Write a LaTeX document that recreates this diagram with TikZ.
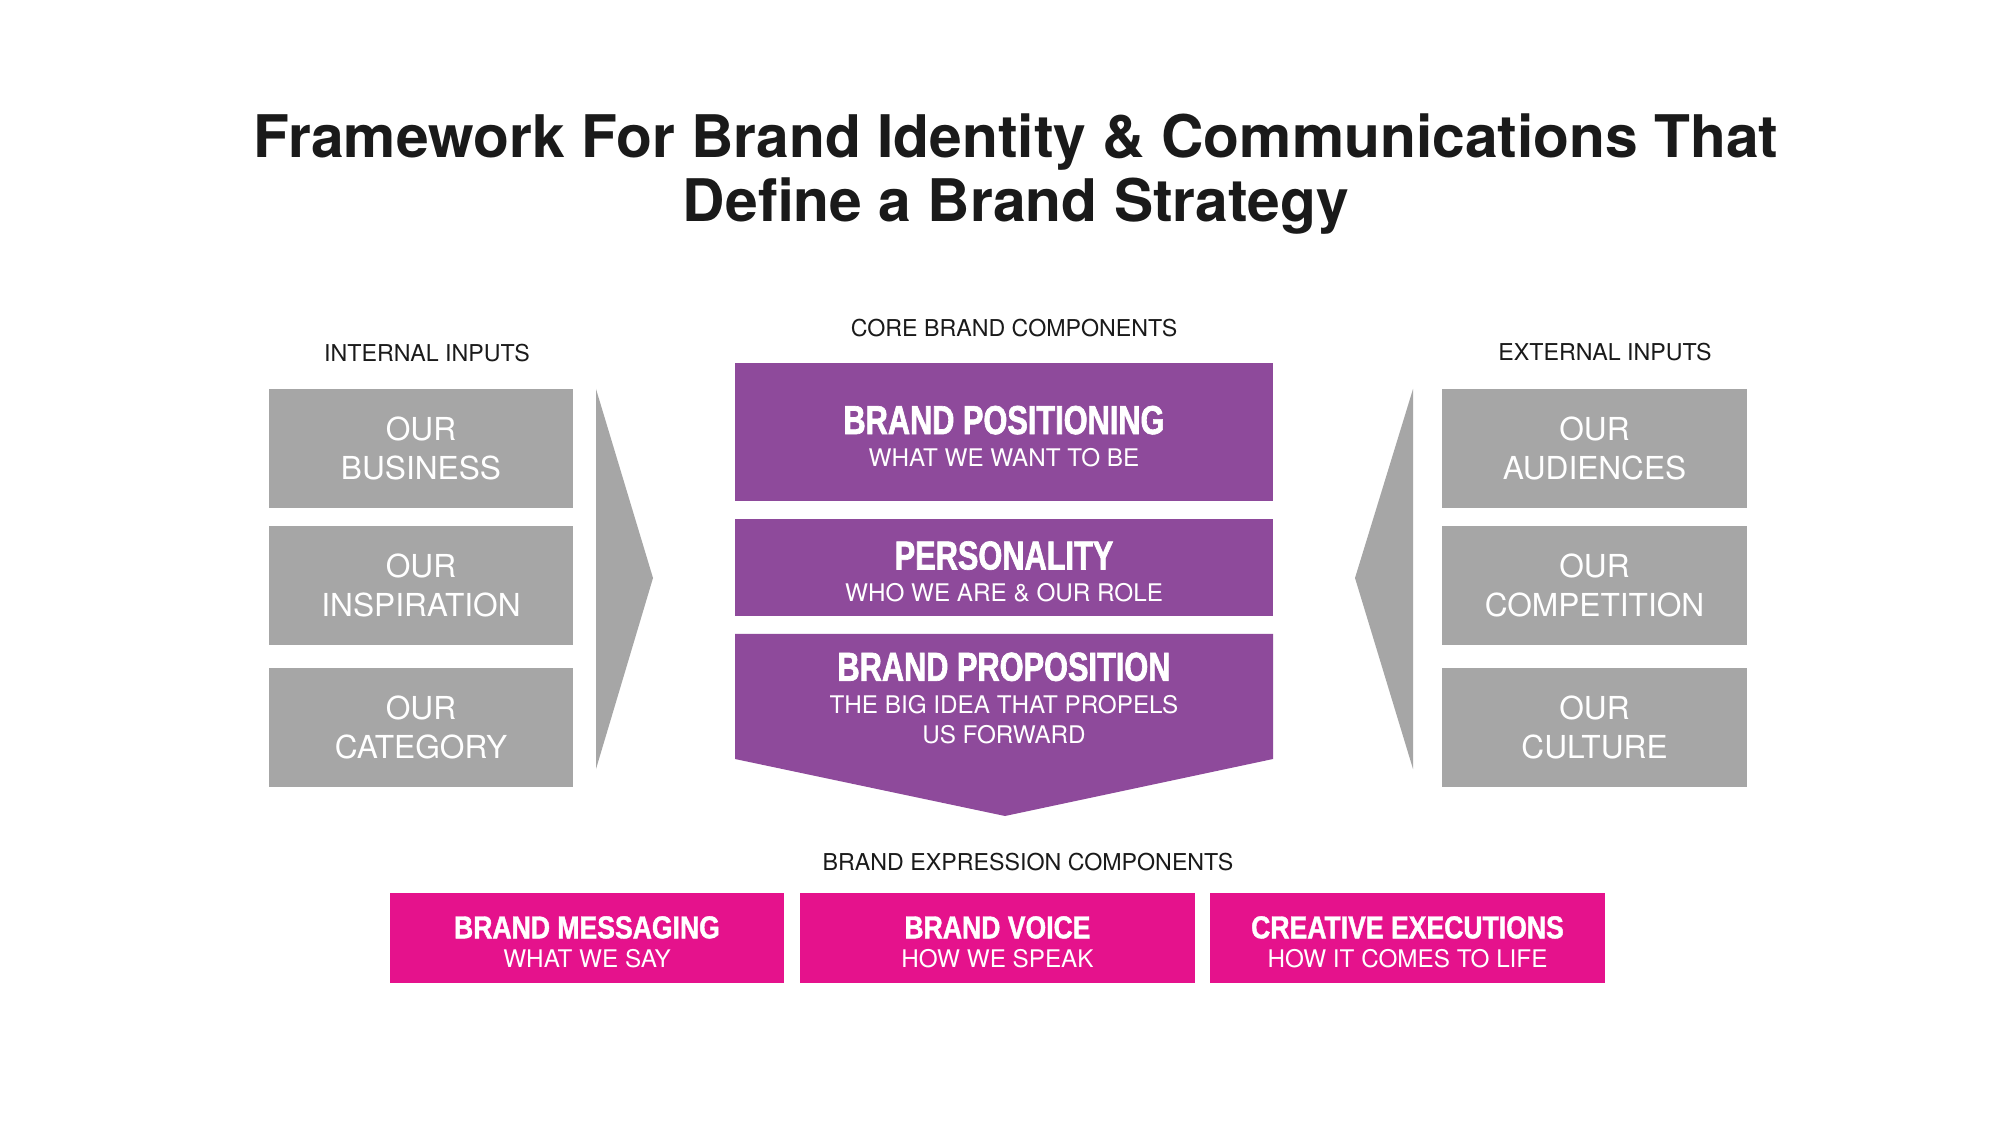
\documentclass[tikz,border=0pt]{standalone}
\usepackage{fontspec}
\setmainfont{TeX Gyre Heros}
\newfontfamily\headfont[FakeStretch=0.76,FakeBold=1.6]{Liberation Sans}
\newfontfamily\tagfont[FakeStretch=0.84,FakeBold=1.3]{Liberation Sans}
\usepackage{tikz}
\usepackage{xcolor}
\usetikzlibrary{positioning}
\definecolor{ink}{HTML}{1A1A1A}
\definecolor{inputgray}{HTML}{A6A6A6}
\definecolor{corepurple}{HTML}{8E4A9B}
\definecolor{exprpink}{HTML}{E5128C}
\tikzset{
  inputbox/.style={fill=inputgray,text=white,
                   minimum width=3.04cm,minimum height=1.19cm,
                   align=center,inner sep=0pt,font=\fontsize{9}{11}\selectfont},
  corebox/.style={fill=corepurple,text=white,minimum width=5.38cm,
                  align=center,inner sep=0pt,text height=19.7pt,
                  font=\fontsize{6.9}{9.2}\selectfont},
  coretext/.style={text=white,align=center,inner sep=0pt,
                   font=\fontsize{6.9}{8.5}\selectfont},
  exprbox/.style={fill=exprpink,text=white,
                  minimum width=3.94cm,minimum height=0.9cm,
                  align=center,inner sep=0pt,text height=17.1pt,
                  font=\fontsize{6.9}{8.4}\selectfont},
  header/.style={text=ink,inner sep=0pt,font=\fontsize{6.6}{8}\selectfont},
  bigtitle/.style={text=ink,align=center,inner sep=0pt,
                   font=\bfseries\fontsize{16.7}{18.2}\selectfont},
  chevron/.style={fill=inputgray}
}
\newcommand{\coretitle}[1]{{\headfont\bfseries\fontsize{11.5}{12}\selectfont #1}}
\newcommand{\exprtitle}[1]{{\tagfont\bfseries\fontsize{9}{10}\selectfont #1}}

\begin{document}
\begin{tikzpicture}[x=0.01cm,y=-0.01cm]
  \fill[white] (0,0) rectangle (2000,1125);
  \useasboundingbox (0,0) rectangle (2000,1125);

  \node[bigtitle] (title) at (1016,174)
    {Framework For Brand Identity \& Communications That\\Define a Brand Strategy};

  \node[header] (inhead)   at (427,353)  {INTERNAL INPUTS};
  \node[header] (exhead)   at (1605,352) {EXTERNAL INPUTS};
  \node[header] (corehead) at (1014,328) {CORE BRAND COMPONENTS};
  \node[header] (exprhead) at (1028,862) {BRAND EXPRESSION COMPONENTS};

  % input columns on both sides
  \foreach \nm/\yc/\txt in {bus/448.5/BUSINESS, insp/585.5/INSPIRATION, cat/727.5/CATEGORY} {
    \node[inputbox] (in-\nm) at (421,\yc) {OUR\\\txt};
  }
  \foreach \nm/\yc/\txt in {aud/448.5/AUDIENCES, comp/585.5/COMPETITION, cult/727.5/CULTURE} {
    \node[inputbox] (ex-\nm) at (1594.5,\yc) {OUR\\\txt};
  }
  \fill[chevron] (596,389) -- (653,578) -- (596,769) -- cycle;
  \fill[chevron] (1413,389) -- (1355,578) -- (1413,769) -- cycle;

  % core stack
  \node[corebox,minimum height=1.38cm] (posn) at (1004,432)
    {\coretitle{BRAND POSITIONING}\\WHAT WE WANT TO BE};
  \node[corebox,minimum height=0.97cm] (pers) at (1004,567.5)
    {\coretitle{PERSONALITY}\\WHO WE ARE \& OUR ROLE};
  \fill[corepurple] (735,634) -- (1273,634) -- (1273,759) -- (1005,816) -- (735,759) -- cycle;
  \node[coretext] (prop) at (1004,698)
    {\coretitle{BRAND PROPOSITION}\\[0.7pt]THE BIG IDEA THAT PROPELS\\US FORWARD};

  \foreach \nm/\xc/\ttl/\sub in {msg/587/BRAND MESSAGING/WHAT WE SAY,
      voice/997.5/BRAND VOICE/HOW WE SPEAK,
      exec/1407.5/CREATIVE EXECUTIONS/HOW IT COMES TO LIFE} {
    \node[exprbox] (ex-\nm) at (\xc,938) {\exprtitle{\ttl}\\\sub};
  }
\end{tikzpicture}
\end{document}
